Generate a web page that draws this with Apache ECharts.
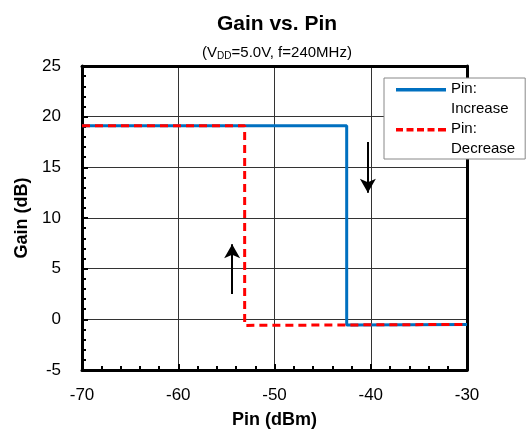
<!DOCTYPE html>
<html><head><meta charset="utf-8">
<script src="https://cdn.jsdelivr.net/npm/echarts@6/dist/echarts.min.js"></script>
<style>html,body{margin:0;padding:0;background:#fff}#c{width:528px;height:434px}</style>
</head><body><div id="c"></div>
<script>
// Data
const pinIncrease = [[-70, 19.1], [-42.5, 19.1], [-42.5, -0.55], [-30, -0.5]];
const pinDecrease = [[-70, 19.1], [-53.1, 19.1], [-53.1, -0.6], [-30, -0.5]];
const arrowDown = [[-40.3, 17.5], [-40.3, 12.5]];
const arrowUp = [[-54.4, 2.5], [-54.4, 7.4]];
const seriesNames = ['Pin:\nIncrease', 'Pin:\nDecrease'];

const font = 'Liberation Sans, Arial, sans-serif';
const chart = echarts.init(document.getElementById('c'), null, {renderer: 'canvas'});
const blueIcon = 'path://M0,0h50v3.5h-50z M0,22L0.01,22';
const redIcon = 'path://M0,0h7v3.5h-7z M10.5,0h7v3.5h-7z M21,0h7v3.5h-7z M31.5,0h7v3.5h-7z M42,0h8v3.5h-8z M0,22L0.01,22';

chart.setOption({
  animation: false,
  title: {
    text: 'Gain vs. Pin',
    subtext: '(V{s|DD}=5.0V, f=240MHz)',
    left: 272, textAlign: 'center', top: 9, itemGap: 9,
    textStyle: {fontFamily: font, fontWeight: 'bold', fontSize: 21, color: '#000'},
    subtextStyle: {fontFamily: font, fontSize: 15, color: '#000',
      rich: {s: {fontFamily: font, fontSize: 10, color: '#000', verticalAlign: 'bottom', padding: [7, 0, 0, 0]}}}
  },
  legend: {
    orient: 'vertical', left: 384, top: 78,
    padding: [1, 10, 0, 12], itemGap: 0,
    borderColor: '#888', borderWidth: 1, backgroundColor: '#fff',
    itemWidth: 50, itemHeight: 22,
    textStyle: {fontFamily: font, fontSize: 15, color: '#000', lineHeight: 20},
    data: [
      {name: seriesNames[0], icon: blueIcon, itemStyle: {color: '#0070C0', borderWidth: 0}},
      {name: seriesNames[1], icon: redIcon, itemStyle: {color: '#FF0000', borderWidth: 0}}
    ]
  },
  grid: {left: 82, right: 61, top: 66, bottom: 59, containLabel: false},
  xAxis: [{
    type: 'value', min: -70, max: -30, interval: 10,
    name: 'Pin (dBm)', nameLocation: 'middle', nameGap: 41,
    nameTextStyle: {fontFamily: font, fontWeight: 'bold', fontSize: 18, color: '#000'},
    axisLine: {onZero: false, lineStyle: {color: '#000', width: 3}},
    axisTick: {inside: true, length: 6, lineStyle: {color: '#000', width: 2}},
    minorTick: {show: true, splitNumber: 5, length: 4, lineStyle: {color: '#000', width: 2}},
    axisLabel: {fontFamily: font, fontSize: 17, color: '#000', margin: 17},
    splitLine: {show: true, lineStyle: {color: '#333', width: 1}}
  }, {
    type: 'value', min: -70, max: -30, interval: 10, position: 'top',
    axisLine: {onZero: false, lineStyle: {color: '#000', width: 3}},
    axisTick: {show: false}, axisLabel: {show: false}, splitLine: {show: false}
  }],
  yAxis: [{
    type: 'value', min: -5, max: 25, interval: 5,
    name: 'Gain (dB)', nameLocation: 'middle', nameGap: 46, nameRotate: 90,
    nameTextStyle: {fontFamily: font, fontWeight: 'bold', fontSize: 18, color: '#000'},
    axisLine: {show: true, onZero: false, lineStyle: {color: '#000', width: 3}},
    axisTick: {show: true, inside: true, length: 6, lineStyle: {color: '#000', width: 2}},
    minorTick: {show: true, splitNumber: 5, length: 4, lineStyle: {color: '#000', width: 2}},
    axisLabel: {fontFamily: font, fontSize: 17, color: '#000', margin: 21},
    splitLine: {show: true, lineStyle: {color: '#333', width: 1}}
  }, {
    type: 'value', min: -5, max: 25, interval: 5, position: 'right',
    axisLine: {show: true, onZero: false, lineStyle: {color: '#000', width: 3}},
    axisTick: {show: false}, axisLabel: {show: false}, splitLine: {show: false}
  }],
  series: [
    {name: seriesNames[0], type: 'line', data: pinIncrease, showSymbol: false, symbol: 'none',
     lineStyle: {color: '#0070C0', width: 3}, itemStyle: {color: '#0070C0'}, z: 3},
    {name: seriesNames[1], type: 'line', data: pinDecrease, showSymbol: false, symbol: 'none',
     lineStyle: {color: '#FF0000', width: 3, type: [8, 5]}, itemStyle: {color: '#FF0000'}, z: 4},
    {type: 'line', data: [], silent: true,
     markLine: {silent: true, symbol: ['none', 'arrow'], symbolSize: [12, 14],
       label: {show: false},
       lineStyle: {color: '#000', width: 2, type: 'solid'},
       data: [
         [{coord: arrowDown[0]}, {coord: arrowDown[1]}],
         [{coord: arrowUp[0]}, {coord: arrowUp[1]}]
       ]}}
  ]
});
</script></body></html>
